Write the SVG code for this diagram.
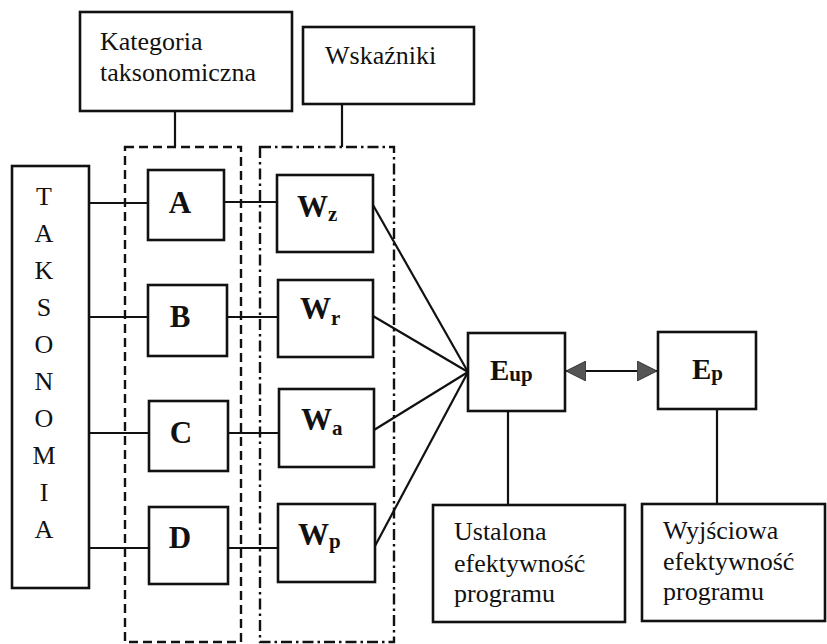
<svg xmlns="http://www.w3.org/2000/svg" width="827" height="644" viewBox="0 0 827 644">
<style>
.box{fill:#fff;stroke:#111;stroke-width:2.6}
.ln{stroke:#111;stroke-width:2.2;fill:none}
.t{font-family:"Liberation Serif","Times New Roman",serif;font-size:26px;fill:#111}
.b{font-family:"Liberation Serif","Times New Roman",serif;font-weight:bold;fill:#111}
</style>
<defs>
<marker id="ah" viewBox="0 0 20 20" refX="20" refY="10" markerWidth="20" markerHeight="20" markerUnits="userSpaceOnUse" orient="auto-start-reverse">
<path d="M0,0 L20,10 L0,20 Z" fill="#555" stroke="#333" stroke-width="1"/>
</marker>
</defs>
<rect width="827" height="644" fill="#fff"/>
<g id="connectors">
<line class="ln" x1="175" y1="111" x2="175" y2="147"/>
<line class="ln" x1="342" y1="104" x2="342" y2="147"/>
<line class="ln" x1="89" y1="203" x2="148" y2="203"/>
<line class="ln" x1="89" y1="317" x2="148" y2="317"/>
<line class="ln" x1="89" y1="433" x2="149" y2="433"/>
<line class="ln" x1="89" y1="548" x2="149" y2="548"/>
<line class="ln" x1="224" y1="202" x2="277" y2="202"/>
<line class="ln" x1="227" y1="317" x2="278" y2="317"/>
<line class="ln" x1="228" y1="433" x2="279" y2="433"/>
<line class="ln" x1="228" y1="548" x2="278" y2="548"/>
<line class="ln" x1="373" y1="205" x2="468" y2="372"/>
<line class="ln" x1="373" y1="316" x2="468" y2="372"/>
<line class="ln" x1="374" y1="430" x2="468" y2="372"/>
<line class="ln" x1="375" y1="546" x2="468" y2="372"/>
<line class="ln" x1="566" y1="371" x2="657" y2="371" marker-start="url(#ah)" marker-end="url(#ah)"/>
<line class="ln" x1="508" y1="411" x2="508" y2="505"/>
<line class="ln" x1="717" y1="409" x2="717" y2="504"/>
</g>
<g id="group-kategoria">
<rect x="125" y="147" width="116" height="495" fill="none" stroke="#111" stroke-width="2.4" stroke-dasharray="9,5"/>
</g>
<g id="group-wskazniki">
<rect x="260" y="147" width="134" height="495" fill="none" stroke="#111" stroke-width="2.4" stroke-dasharray="11,4,2.5,4"/>
</g>
<g id="kategoria">
<rect class="box" x="80" y="12" width="212" height="99"/>
<text class="t" x="100" y="50">Kategoria</text>
<text class="t" x="100" y="81">taksonomiczna</text>
</g>
<g id="wskazniki">
<rect class="box" x="303" y="27" width="171" height="77"/>
<text class="t" x="325" y="64">Wskaźniki</text>
</g>
<g id="taksonomia">
<rect class="box" x="12" y="166" width="77" height="422"/>
<g class="t" text-anchor="middle" font-size="28">
<text x="44" y="205">T</text>
<text x="44" y="242">A</text>
<text x="44" y="279">K</text>
<text x="44" y="316">S</text>
<text x="44" y="353">O</text>
<text x="44" y="390">N</text>
<text x="44" y="427">O</text>
<text x="44" y="464">M</text>
<text x="44" y="501">I</text>
<text x="44" y="538">A</text>
</g>
</g>
<g id="A">
<rect class="box" x="148" y="170" width="76" height="70"/>
<text class="b" x="180" y="213" font-size="31" text-anchor="middle">A</text>
</g>
<g id="B">
<rect class="box" x="148" y="285" width="79" height="71"/>
<text class="b" x="180" y="327" font-size="31" text-anchor="middle">B</text>
</g>
<g id="C">
<rect class="box" x="149" y="401" width="79" height="70"/>
<text class="b" x="181" y="443" font-size="31" text-anchor="middle">C</text>
</g>
<g id="D">
<rect class="box" x="149" y="507" width="79" height="77"/>
<text class="b" x="180" y="548" font-size="31" text-anchor="middle">D</text>
</g>
<g id="Wz">
<rect class="box" x="277" y="175" width="96" height="77"/>
<text class="b" x="297" y="217" font-size="31">W<tspan font-size="21" dy="4">z</tspan></text>
</g>
<g id="Wr">
<rect class="box" x="278" y="280" width="95" height="77"/>
<text class="b" x="300" y="319" font-size="31">W<tspan font-size="21" dy="6">r</tspan></text>
</g>
<g id="Wa">
<rect class="box" x="279" y="389" width="95" height="78"/>
<text class="b" x="301" y="430" font-size="31">W<tspan font-size="21" dy="5">a</tspan></text>
</g>
<g id="Wp">
<rect class="box" x="278" y="504" width="97" height="78"/>
<text class="b" x="298" y="545" font-size="31">W<tspan font-size="21" dy="3">p</tspan></text>
</g>
<g id="Eup">
<rect class="box" x="468" y="333" width="97" height="78"/>
<text class="b" x="490" y="380" font-size="29">E<tspan font-size="21" dy="1">up</tspan></text>
</g>
<g id="Ep">
<rect class="box" x="658" y="332" width="98" height="77"/>
<text class="b" x="692" y="379" font-size="29">E<tspan font-size="21" dy="1">p</tspan></text>
</g>
<g id="ustalona">
<rect class="box" x="433" y="505" width="192" height="117"/>
<text class="t" x="454" y="540">Ustalona</text>
<text class="t" x="454" y="572">efektywność</text>
<text class="t" x="454" y="602">programu</text>
</g>
<g id="wyjsciowa">
<rect class="box" x="642" y="504" width="183" height="117"/>
<text class="t" x="663" y="539">Wyjściowa</text>
<text class="t" x="663" y="570">efektywność</text>
<text class="t" x="663" y="600">programu</text>
</g>
</svg>
